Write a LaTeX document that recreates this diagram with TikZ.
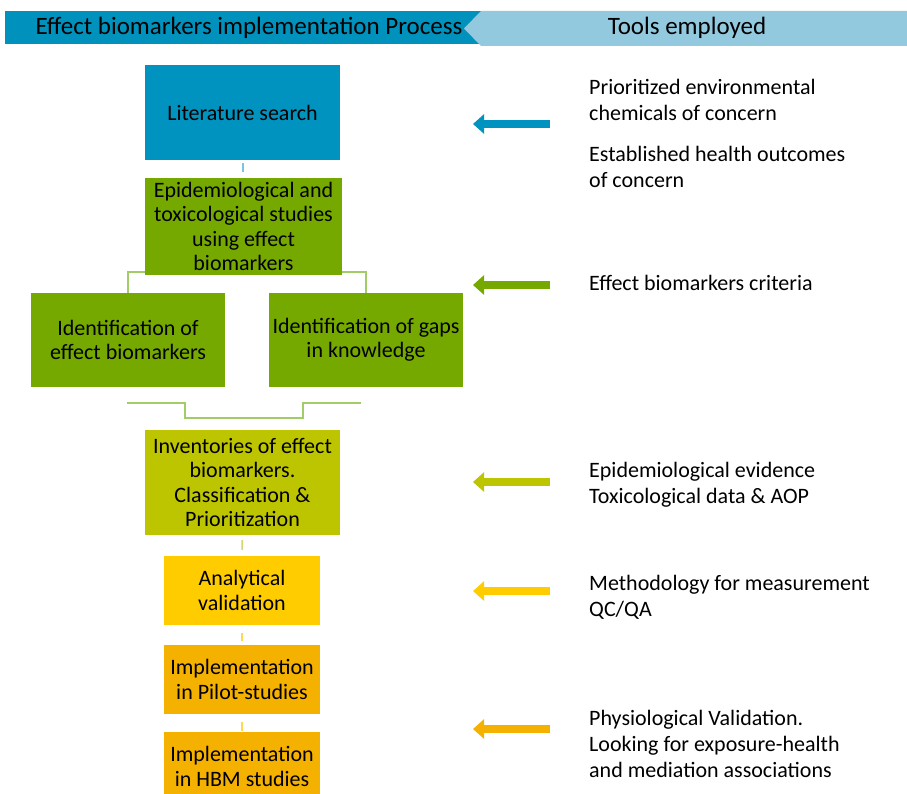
\documentclass[tikz,border=0pt]{standalone}
\usepackage{fontspec}
\setmainfont{Carlito}
\usetikzlibrary{arrows.meta,calc}
\definecolor{hdark}{HTML}{0092BD}
\definecolor{hlight}{HTML}{93C9DF}
\definecolor{cblue}{HTML}{0093BF}
\definecolor{cgreen}{HTML}{76A900}
\definecolor{cline}{HTML}{A2CD66}
\definecolor{colive}{HTML}{BDC400}
\definecolor{cyellow}{HTML}{FFCC00}
\definecolor{corange}{HTML}{F5B100}
\definecolor{tblue}{HTML}{7CC3DD}
\definecolor{tolive}{HTML}{D3D770}
\definecolor{tyellow}{HTML}{FFD84D}
\tikzset{
  box/.style={inner sep=0pt, align=center, font=\fontsize{22}{24.5}\selectfont, text=black},
  tool/.style={anchor=west, inner sep=0pt, align=left, font=\fontsize{22}{26}\selectfont},
  hdr/.style={inner sep=0pt, font=\fontsize{25}{27}\selectfont},
  brk/.style={draw=cline, line width=1.6pt},
  tick/.style={line width=1.6pt},
  toolarrow/.style={line width=8pt, -{Triangle[width=19pt,length=11pt]}}
}
\begin{document}
\begin{tikzpicture}[x=1pt,y=-1pt]
\useasboundingbox[fill=white] (0,0) rectangle (907,794);
% header
\fill[hdark] (5,11) rectangle (481,44);
\fill[hlight] (481,11) -- (907,11) -- (907,46) -- (481,46) -- (464,28.5) -- cycle;
\node[hdr] (h1) at (249,28) {Effect biomarkers implementation Process};
\node[hdr] (h2) at (687,28) {Tools employed};
% boxes
\node[box, fill=cblue, minimum width=195pt, minimum height=95pt] (lit) at (242.5,112.5) {Literature search};
\node[box, fill=cgreen, minimum width=197pt, minimum height=97pt] (epi) at (243.5,226.5) {Epidemiological and\\toxicological studies\\using effect\\biomarkers};
\node[box, fill=cgreen, minimum width=194pt, minimum height=94pt] (id1) at (128,340) {Identification of\\effect biomarkers};
\node[box, fill=cgreen, minimum width=194pt, minimum height=94pt] (id2) at (366,340) {Identification of gaps\\in knowledge};
\node[box, fill=colive, minimum width=195pt, minimum height=105pt] (inv) at (242.5,482.5) {Inventories of effect\\biomarkers.\\Classification \&\\Prioritization};
\node[box, fill=cyellow, minimum width=156pt, minimum height=69pt] (ana) at (242,590.5) {Analytical\\validation};
\node[box, fill=corange, minimum width=156pt, minimum height=69pt] (pil) at (242,679.5) {Implementation\\in Pilot-studies};
\node[box, fill=corange, minimum width=156pt, minimum height=69pt] (hbm) at (242,766.5) {Implementation\\in HBM studies};
% connectors
\draw[tick, tblue, shorten <=3pt, shorten >=6pt] (lit) -- (epi);
\draw[brk] ($(epi.south west)+(0,-3)$) -| (id1.north);
\draw[brk] ($(epi.south east)+(0,-3)$) -| (id2.north);
\coordinate (bL) at (127,403);
\coordinate (bR) at (361,403);
\draw[brk] (bL) -- (185,403) -- (185,418) -- (303,418) -- (303,403) -- (bR);
\draw[tick, tolive, shorten <=5pt, shorten >=6pt] (inv) -- (ana);
\draw[tick, tyellow, shorten <=8pt, shorten >=4pt] (ana) -- (pil);
\draw[tick, tyellow, shorten <=8pt, shorten >=1pt] (pil) -- (hbm);
% tool arrows
\coordinate (a1s) at (550,124); \coordinate (a1e) at (473,124);
\coordinate (a2s) at (550,285); \coordinate (a2e) at (473,285);
\coordinate (a3s) at (550,482); \coordinate (a3e) at (473,482);
\coordinate (a4s) at (550,591); \coordinate (a4e) at (473,591);
\coordinate (a5s) at (550,729); \coordinate (a5e) at (473,729);
\draw[toolarrow, draw=cblue, fill=cblue] (a1s) -- (a1e);
\draw[toolarrow, draw=cgreen, fill=cgreen] (a2s) -- (a2e);
\draw[toolarrow, draw=colive, fill=colive] (a3s) -- (a3e);
\draw[toolarrow, draw=cyellow, fill=cyellow] (a4s) -- (a4e);
\draw[toolarrow, draw=corange, fill=corange] (a5s) -- (a5e);
% tool texts
\node[tool] (t1) at (589,100) {Prioritized environmental\\chemicals of concern};
\node[tool] (t2) at (589,167) {Established health outcomes\\of concern};
\node[tool] (t3) at (589,283) {Effect biomarkers criteria};
\node[tool] (t4) at (589,485) {Epidemiological evidence\\Toxicological data \& AOP};
\node[tool] (t5) at (589,597) {Methodology for measurement\\QC/QA};
\node[tool] (t6) at (589,744) {Physiological Validation.\\Looking for exposure-health\\and mediation associations};
\end{tikzpicture}
\end{document}
